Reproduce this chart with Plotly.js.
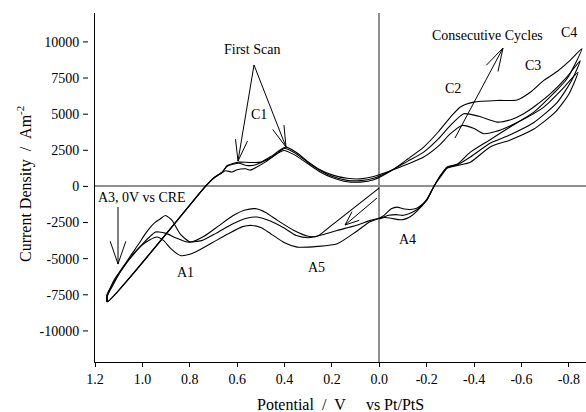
<!DOCTYPE html>
<html>
<head>
<meta charset="utf-8">
<script src="https://cdn.plot.ly/plotly-3.0.1.min.js"></script>
<style>
  html, body { margin: 0; padding: 0; background: #fff; }
  #chart { width: 586px; height: 412px; }
</style>
</head>
<body>
<div id="chart"></div>
<script>
// Cyclic voltammogram: three successive cycles, potential (V vs Pt/PtS) vs current density (A m^-2)

// Cycle 1 (first scan, starting at 0 V)
const cycle1Potential = [
  0.00, 0.07, 0.14, 0.21, 0.262, 0.30, 0.36, 0.43, 0.48, 0.523, 0.57, 0.62, 0.68, 0.74, 0.797, 0.84, 0.875, 0.903, 0.925, 0.945, 0.965, 0.987, 1.015, 1.05, 1.09, 1.12, 1.148,
  1.145, 0.734, 0.70, 0.663, 0.642, 0.593, 0.55, 0.50, 0.45, 0.396, 0.35, 0.30, 0.25, 0.20, 0.136, 0.08, 0.024, -0.05, -0.12, -0.187, -0.25, -0.30, -0.349, -0.40, -0.441, -0.49, -0.539, -0.62, -0.694, -0.77, -0.838,
  -0.80, -0.74, -0.65, -0.55, -0.469, -0.384, -0.33, -0.286, -0.255, -0.23, -0.20, -0.16, -0.13, -0.10, -0.075, -0.05, -0.02, 0.00
];
const cycle1Current = [
  -100, -1000, -1900, -2800, -3450, -3450, -3050, -2350, -1800, -1540, -1650, -2050, -2750, -3450, -3850, -3300, -2350, -2010, -2250, -2470, -2800, -3270, -3970, -4800, -5800, -6700, -7600,
  -7950, 0, 580, 990, 1450, 1680, 1660, 1680, 2150, 2720, 2350, 1700, 1150, 800, 560, 520, 680, 1100, 1550, 2030, 2800, 3650, 4220, 4000, 3650, 3800, 4100, 4750, 5490, 6700, 7900,
  6400, 5100, 3950, 3200, 2750, 1680, 1450, 1250, 600, 0, -950, -1500, -1600, -1550, -1430, -1550, -2000, -2200
];

// Cycle 2
const cycle2Potential = [
  0.00, 0.037, 0.10, 0.178, 0.24, 0.30, 0.35, 0.40, 0.46, 0.516, 0.56, 0.62, 0.69, 0.75, 0.81, 0.86, 0.90, 0.93, 0.945, 0.97, 1.00, 1.04, 1.08, 1.12, 1.15,
  1.147, 0.736, 0.70, 0.663, 0.642, 0.593, 0.56, 0.525, 0.45, 0.40, 0.35, 0.30, 0.25, 0.20, 0.136, 0.08, 0.024, -0.05, -0.12, -0.187, -0.25, -0.30, -0.356, -0.42, -0.497, -0.56, -0.609, -0.66, -0.722, -0.79, -0.848,
  -0.81, -0.75, -0.65, -0.55, -0.469, -0.384, -0.33, -0.286, -0.255, -0.23, -0.20, -0.16, -0.13, -0.10, -0.07, -0.04, -0.02, 0.00
];
const cycle2Current = [
  -2200, -2350, -2700, -3050, -3350, -3550, -3400, -2900, -2400, -2120, -2200, -2600, -3250, -3750, -3850, -3550, -3250, -3150, -3160, -3500, -4000, -4700, -5600, -6600, -7500,
  -7980, -30, 560, 980, 1400, 1600, 1450, 1480, 2050, 2620, 2250, 1650, 1100, 700, 420, 400, 560, 1100, 1750, 2370, 3300, 4220, 5030, 4850, 4450, 4650, 5030, 5600, 6420, 7550, 8700,
  7300, 5800, 4400, 3550, 3000, 2030, 1500, 1300, 650, 0, -950, -1600, -1850, -2000, -1950, -2000, -2100, -2200
];

// Cycle 3
const cycle3Potential = [
  0.00, 0.04, 0.10, 0.178, 0.26, 0.347, 0.40, 0.459, 0.50, 0.537, 0.58, 0.64, 0.70, 0.76, 0.80, 0.839, 0.88, 0.91, 0.938, 0.97, 1.00, 1.04, 1.08, 1.12, 1.15,
  1.149, 0.734, 0.70, 0.663, 0.649, 0.621, 0.60, 0.565, 0.544, 0.523, 0.48, 0.438, 0.403, 0.36, 0.30, 0.25, 0.20, 0.136, 0.08, 0.024, -0.05, -0.12, -0.187, -0.25, -0.30, -0.342, -0.398, -0.50, -0.581, -0.64, -0.694, -0.75, -0.80, -0.855,
  -0.792, -0.736, -0.652, -0.55, -0.469, -0.384, -0.33, -0.286, -0.255, -0.23, -0.20, -0.16, -0.13, -0.10, -0.08, -0.05, -0.02, 0.00
];
const cycle3Current = [
  -2200, -2450, -3150, -3970, -4150, -4200, -3900, -3270, -2850, -2700, -2800, -3300, -3850, -4400, -4700, -4780, -4300, -3750, -3500, -3700, -4050, -4750, -5550, -6500, -7650,
  -8000, 0, 560, 960, 1080, 1000, 1150, 1220, 1130, 1290, 1700, 2210, 2490, 2200, 1550, 1000, 620, 320, 300, 460, 1080, 1900, 2720, 3800, 4800, 5500, 5830, 5950, 5980, 6550, 7340, 7950, 8650, 9530,
  7450, 6450, 5140, 4100, 3250, 2370, 1550, 1350, 700, 0, -900, -1700, -2100, -2300, -2300, -2200, -2150, -2250
];

// Axis ticks
const xTickValues = [1.2, 1.0, 0.8, 0.6, 0.4, 0.2, 0.0, -0.2, -0.4, -0.6, -0.8];
const xTickLabels = ['1.2', '1.0', '0.8', '0.6', '0.4', '0.2', '0.0', '-0.2', '-0.4', '-0.6', '-0.8'];
const yTickValues = [10000, 7500, 5000, 2500, 0, -2500, -5000, -7500, -10000];
const yTickLabels = ['10000', '7500', '5000', '2500', '0', '-2500', '-5000', '-7500', '-10000'];

// Plot geometry (pixels) and axis ranges
const FIG_W = 586, FIG_H = 412;
const M = { l: 95, r: 0, t: 13, b: 50 };
const PW = FIG_W - M.l - M.r, PH = FIG_H - M.t - M.b;
const X_RANGE = [1.2, -0.872];
const Y_RANGE = [-12150, 12000];

// pixel position -> axis value, used to place the labels and pointer arrows
const toX = px => X_RANGE[0] + (px - M.l) / PW * (X_RANGE[1] - X_RANGE[0]);
const toY = py => Y_RANGE[1] - (py - M.t) / PH * (Y_RANGE[1] - Y_RANGE[0]);

const FONT = 'Liberation Serif, Times New Roman, serif';

const lineStyle = { color: '#000', width: 1.1, shape: 'spline', smoothing: 0.6 };
const traces = [
  { x: cycle1Potential, y: cycle1Current, name: 'Cycle 1', mode: 'lines', line: lineStyle },
  { x: cycle2Potential, y: cycle2Current, name: 'Cycle 2', mode: 'lines', line: lineStyle },
  { x: cycle3Potential, y: cycle3Current, name: 'Cycle 3', mode: 'lines', line: lineStyle }
];

// open "V" arrow made of line shapes (pixel coordinates in, axis coordinates out)
function arrow(x0, y0, x1, y1, headLen, halfAngleDeg) {
  const seg = (ax, ay, bx, by) => ({
    type: 'line', xref: 'x', yref: 'y',
    x0: toX(ax), y0: toY(ay), x1: toX(bx), y1: toY(by),
    line: { color: '#000', width: 1 }
  });
  const ang = Math.atan2(y0 - y1, x0 - x1);
  const h = halfAngleDeg * Math.PI / 180;
  return [
    seg(x0, y0, x1, y1),
    seg(x1, y1, x1 + headLen * Math.cos(ang + h), y1 + headLen * Math.sin(ang + h)),
    seg(x1, y1, x1 + headLen * Math.cos(ang - h), y1 + headLen * Math.sin(ang - h))
  ];
}

const shapes = [].concat(
  arrow(254, 65, 238, 161, 22, 16),
  arrow(254, 65, 286, 147, 22, 16),
  arrow(118, 207, 118, 264, 24, 19),
  arrow(377, 198, 345, 225, 15, 22),
  arrow(455, 138, 503, 48, 24, 16)
);

// y tick marks sit slightly left of the axis line
yTickValues.forEach(v => {
  shapes.push({
    type: 'line', xref: 'paper', yref: 'y',
    x0: (83 - M.l) / PW, x1: (88 - M.l) / PW, y0: v, y1: v,
    line: { color: '#000', width: 1 }
  });
});

function label(text, px, py) {
  return { text: text, xref: 'x', yref: 'y', x: toX(px), y: toY(py),
           showarrow: false, font: { family: FONT, size: 14, color: '#000' },
           xanchor: 'center', yanchor: 'middle' };
}

const NB = '\u00a0';
const annotations = [
  label('First Scan', 252, 49),
  label('C1', 259, 114),
  label('C2', 453, 88),
  label('C3', 533, 65),
  label('C4', 569, 32),
  label('Consecutive Cycles', 487, 35),
  label('A3, 0V vs CRE', 142, 197),
  label('A1', 185, 272),
  label('A5', 316, 267),
  label('A4', 407, 239),
  {
    text: 'Potential' + NB + NB + '/' + NB + NB + 'V' + NB + NB + NB + NB + NB + 'vs Pt/PtS',
    xref: 'paper', yref: 'paper', x: 0.5, y: 1 - (404 - M.t) / PH,
    showarrow: false, font: { family: FONT, size: 16, color: '#000' },
    xanchor: 'center', yanchor: 'middle'
  },
  {
    text: 'Current Density' + NB + NB + '/' + NB + NB + 'Am<sup>-2</sup>',
    xref: 'paper', yref: 'paper', x: (24 - M.l) / PW, y: 1 - (184 - M.t) / PH,
    textangle: -90, showarrow: false, font: { family: FONT, size: 16, color: '#000' },
    xanchor: 'center', yanchor: 'middle'
  }
];

const layout = {
  width: FIG_W, height: FIG_H,
  margin: M,
  paper_bgcolor: '#fff', plot_bgcolor: '#fff',
  showlegend: false,
  font: { family: FONT, size: 14, color: '#000' },
  xaxis: {
    range: X_RANGE, tickvals: xTickValues, ticktext: xTickLabels,
    ticks: 'outside', ticklen: 4, tickcolor: '#000', tickwidth: 1,
    showline: true, linecolor: '#000', linewidth: 1,
    showgrid: false,
    zeroline: true, zerolinecolor: '#8f8f8f', zerolinewidth: 2,
    tickfont: { family: FONT, size: 14, color: '#000' }
  },
  xaxis2: {
    range: X_RANGE, tickvals: xTickValues, overlaying: 'x', side: 'top', anchor: 'y',
    ticks: 'inside', ticklen: 4, tickcolor: '#000', tickwidth: 1,
    showline: true, linecolor: '#000', linewidth: 1,
    showticklabels: false, showgrid: false, zeroline: false
  },
  yaxis: {
    range: Y_RANGE, tickvals: yTickValues, ticktext: yTickLabels,
    ticks: 'outside', ticklen: 12, tickcolor: 'rgba(0,0,0,0)',
    showline: true, linecolor: '#000', linewidth: 1,
    showgrid: false,
    zeroline: true, zerolinecolor: '#8f8f8f', zerolinewidth: 2,
    tickfont: { family: FONT, size: 14, color: '#000' }
  },
  shapes: shapes,
  annotations: annotations
};

Plotly.newPlot('chart', traces, layout, { staticPlot: true, displayModeBar: false });
</script>
</body>
</html>
